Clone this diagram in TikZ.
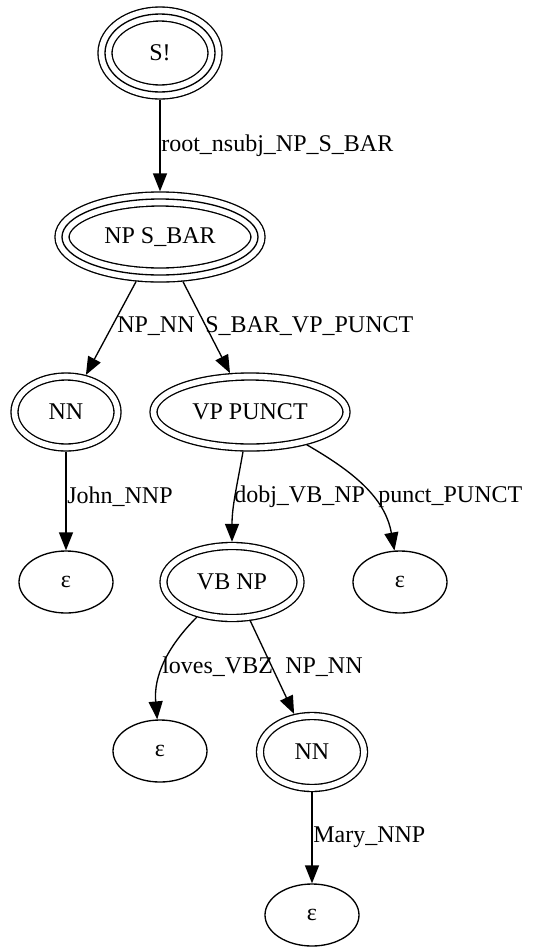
\documentclass[tikz,border=0pt]{standalone}
\usepackage{fontspec}
\setmainfont{Liberation Serif}
\usetikzlibrary{shapes.geometric, arrows.meta}
\newcommand{\nodefont}{\fontsize{18}{20}\selectfont}
\tikzset{
	st/.style={ellipse, draw, line width=1pt, inner sep=0pt, font=\nodefont},
	eps/.style={st, minimum width=70.5pt, minimum height=46.5pt},
	fin/.style={st, double, double distance=4.25pt, outer sep=3.125pt},
	root/.style={st, outer sep=5.75pt, preaction={draw, line width=1pt, double, double distance=9.5pt}},
	lbl/.style={anchor=west, inner sep=0pt, font=\nodefont},
	arr/.style={line width=1pt, -{Triangle[length=13.5pt, width=10.5pt]}}
}

\begin{document}
\begin{tikzpicture}[x=0.75pt, y=-0.75pt]
	\useasboundingbox (0,0) rectangle (533,947);
	\node[root, minimum width=82.5pt, minimum height=58.5pt] (s) at (160,53) {S!};
	\node[root, minimum width=147pt, minimum height=57pt] (npsbar) at (160,237) {NP S\_BAR};
	\node[fin, minimum width=77.25pt, minimum height=53.25pt] (nn1) at (66,412) {NN};
	\node[fin, minimum width=144.75pt, minimum height=53.25pt] (vppunct) at (250,412) {VP PUNCT};
	\node[eps] (eps1) at (66,582) {ε};
	\node[fin, minimum width=102.75pt, minimum height=54pt] (vbnp) at (232,582) {VB NP};
	\node[eps] (eps2) at (400,582) {ε};
	\node[eps] (eps3) at (160,751) {ε};
	\node[fin, minimum width=78pt, minimum height=54pt] (nn2) at (312,752) {NN};
	\node[eps] (eps4) at (312,915) {ε};
	\draw[arr] (s) -- (npsbar);
	\draw[arr] (npsbar) -- (nn1);
	\draw[arr] (npsbar) -- (vppunct);
	\draw[arr] (nn1) -- (eps1);
	\draw[arr] (vppunct) to[out=-100, in=90] (vbnp);
	\draw[arr] (vppunct) to[out=-30, in=100] (eps2);
	\draw[arr] (vbnp) to[out=-135, in=95] (eps3);
	\draw[arr] (vbnp) -- (nn2);
	\draw[arr] (nn2) -- (eps4);
	\node[lbl] (l1) at (161,146) {root\_nsubj\_NP\_S\_BAR};
	\node[lbl] (l2) at (117,326) {NP\_NN};
	\node[lbl] (l3) at (205,326) {S\_BAR\_VP\_PUNCT};
	\node[lbl] (l4) at (67,497) {John\_NNP};
	\node[lbl] (l5) at (234,497) {dobj\_VB\_NP};
	\node[lbl] (l6) at (378,497) {punct\_PUNCT};
	\node[lbl] (l7) at (162,667) {loves\_VBZ};
	\node[lbl] (l8) at (285,667) {NP\_NN};
	\node[lbl] (l9) at (313,837) {Mary\_NNP};
\end{tikzpicture}
\end{document}
